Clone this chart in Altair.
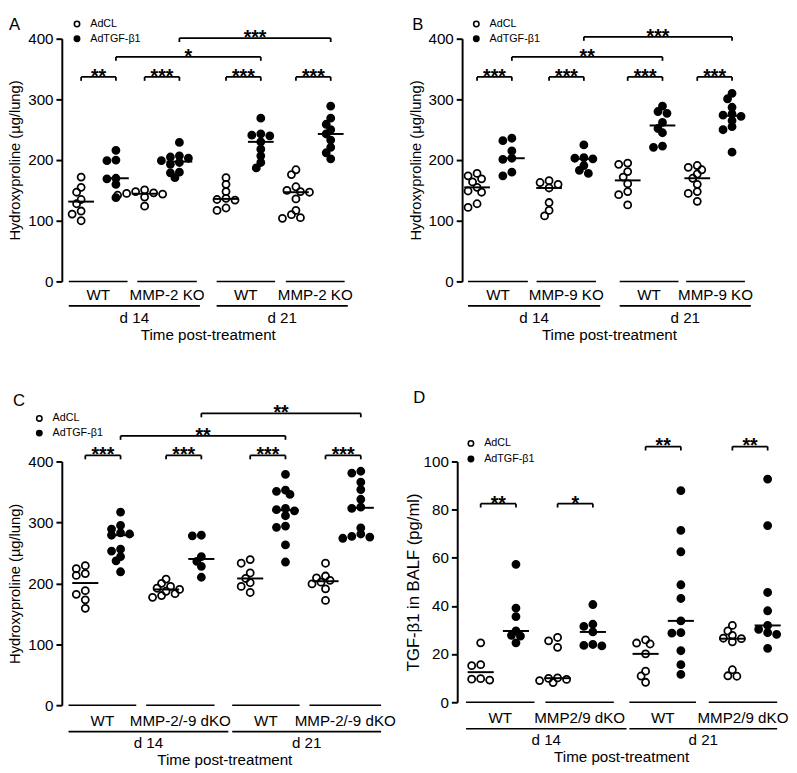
import altair as alt
import pandas as pd

FONT = "Liberation Sans"
SERIES = ["AdCL", "AdTGF-β1"]
DAYS = ["d 14", "d 21"]
X_TITLE = "Time post-treatment"

# ---------------- data (order of groups: WT d14, KO d14, WT d21, KO d21) ----------------
A_ADCL = [
    [172, 155, 147, 135, 128, 116, 111, 100],
    [151, 148, 146, 145, 144, 142, 139, 124],
    [171, 160, 148, 137, 135, 134, 121, 117],
    [184, 176, 156, 150, 148, 147, 136, 117, 110, 105, 104],
]
A_TGF = [
    [216, 200, 199, 170, 169, 160, 138],
    [229, 207, 205, 203, 199, 196, 193, 180, 179, 171],
    [269, 243, 241, 240, 230, 218, 207, 196, 187],
    [289, 269, 259, 250, 243, 233, 221, 212, 202],
]
B_ADCL = [
    [178, 174, 169, 164, 155, 149, 147, 128, 122],
    [166, 163, 160, 154, 130, 117, 108],
    [195, 193, 181, 172, 161, 148, 143, 126],
    [191, 188, 184, 177, 170, 160, 148, 145, 132],
]
B_TGF = [
    [236, 232, 215, 203, 201, 180, 174],
    [225, 204, 203, 202, 191, 183, 178],
    [289, 280, 277, 262, 252, 245, 223, 221],
    [310, 301, 287, 276, 274, 272, 265, 255, 250, 213],
]
C_ADCL = [
    [229, 224, 216, 213, 188, 182, 173, 159],
    [207, 200, 195, 192, 190, 187, 183, 180, 177],
    [239, 233, 217, 208, 201, 195, 185],
    [233, 212, 209, 205, 202, 199, 191, 172],
]
C_TGF = [
    [317, 295, 289, 283, 281, 279, 256, 253, 244, 237, 219],
    [279, 278, 244, 236, 228, 210],
    [379, 353, 351, 346, 323, 321, 319, 311, 294, 292, 263, 235],
    [384, 381, 366, 354, 338, 325, 323, 291, 281, 277, 276, 274],
]
D_ADCL = [
    [24.7, 15.6, 15.2, 9.8, 9.6, 9.2],
    [26.9, 25.5, 22.8, 10.1, 9.9, 9.5, 9.0, 8.2],
    [25.9, 24.6, 24.2, 20.1, 12.9, 10.9, 8.3],
    [31.9, 29.6, 27.8, 26.6, 26.4, 25.1, 13.5, 11.0, 10.8],
]
D_TGF = [
    [57.3, 39.1, 35.6, 29.6, 27.8, 27.5, 24.7],
    [40.6, 32.4, 31.5, 29.2, 24.0, 23.6, 23.4],
    [87.9, 71.4, 62.5, 48.8, 43.1, 33.8, 28.9, 28.7, 21.4, 15.6, 11.6],
    [92.7, 73.4, 45.6, 38.0, 31.9, 30.3, 28.9, 28.2, 22.4],
]

A_GENO = ["WT", "MMP-2 KO", "WT", "MMP-2 KO"]
B_GENO = ["WT", "MMP-9 KO", "WT", "MMP-9 KO"]
C_GENO = ["WT", "MMP-2/-9 dKO", "WT", "MMP-2/-9 dKO"]
D_GENO = ["WT", "MMP2/9 dKO", "WT", "MMP2/9 dKO"]

# significance: pair labels per genotype, pair bracket levels, cross comparisons (label, from, to, level)
A_PAIR = ["**", "***", "***", "***"]
A_PAIR_Y = [337, 337, 337, 337]
A_CROSS = [("*", 0, 2, 370), ("***", 1, 3, 401)]
B_PAIR = ["***", "***", "***", "***"]
B_PAIR_Y = [337, 337, 337, 337]
B_CROSS = [("**", 0, 2, 370), ("***", 1, 3, 403)]
C_PAIR = ["***", "***", "***", "***"]
C_PAIR_Y = [410, 410, 410, 410]
C_CROSS = [("**", 0, 2, 442), ("**", 1, 3, 479)]
D_PAIR = ["**", "*", "**", "**"]
D_PAIR_Y = [82.5, 82.5, 106.2, 106.2]
D_CROSS = []

HYP_TITLE = "Hydroxyproline (µg/lung)"
TGF_TITLE = "TGF-β1 in BALF (pg/ml)"
HYP_TICKS = [0, 100, 200, 300, 400]
TGF_TICKS = [0, 20, 40, 60, 80, 100]

TXT = 15.5


def swarm_offsets(values, ppy, ppx, diam=6.2, step=4.6):
    """Simple deterministic beeswarm layout: returns x offsets (data units)."""
    order = sorted(range(len(values)), key=lambda i: -values[i])
    cands = [0.0]
    for j in range(1, 10):
        cands += [-j * step, j * step]
    placed = []
    out = [0.0] * len(values)
    for i in order:
        y = values[i] * ppy
        chosen = cands[-1]
        for c in cands:
            if all((c - px) ** 2 + (y - py) ** 2 >= diam ** 2 for px, py in placed):
                chosen = c
                break
        placed.append((chosen, y))
        out[i] = chosen / ppx
    return out


def panel(cfg):
    W, H = cfg["width"], cfg["height"]
    xdom, ydom = cfg["xdom"], cfg["ydom"]
    ppx = W / (xdom[1] - xdom[0])
    ppy = H / (ydom[1] - ydom[0])
    xs = alt.Scale(domain=xdom, nice=False, zero=False)
    ys = alt.Scale(domain=ydom, nice=False, zero=False)
    centers = cfg["centers"]

    rows = []
    for g in range(4):
        for s, vals in enumerate([cfg["adcl"][g], cfg["tgf"][g]]):
            xc = centers[g] + (-0.5 if s == 0 else 0.5)
            offs = swarm_offsets(vals, ppy, ppx)
            for v, o in zip(vals, offs):
                rows.append(dict(series=SERIES[s], value=v, xc=xc, x=xc + o))
    pts = pd.DataFrame(rows)

    yaxis = alt.Axis(
        values=cfg["ticks"], title=cfg["ytitle"], format="d", grid=False,
        domainColor="black", domainWidth=2, tickColor="black", tickWidth=2, tickSize=6,
        labelFont=FONT, labelFontSize=TXT, labelColor="black", labelPadding=3,
        titleFont=FONT, titleFontSize=cfg["ytitle_size"], titleFontWeight="normal",
        titleColor="black", titlePadding=cfg["title_pad"],
    )
    lg = cfg["legend"]
    points = alt.Chart(pts).mark_point(
        shape="circle", filled=True, size=52, stroke="black", strokeWidth=1.8, opacity=1
    ).encode(
        x=alt.X("x:Q", scale=xs, axis=None),
        y=alt.Y("value:Q", scale=ys, axis=yaxis),
        fill=alt.Fill(
            "series:N",
            scale=alt.Scale(domain=SERIES, range=["rgba(0,0,0,0)", "black"]),
            legend=alt.Legend(
                orient="none", legendX=lg[0], legendY=lg[1], title=None,
                labelFont=FONT, labelFontSize=11, labelColor="black",
                symbolType="circle", symbolSize=30, symbolStrokeColor="black",
                symbolStrokeWidth=1.6, rowPadding=lg[2], padding=0, labelOffset=8,
            ),
        ),
    )

    medians = alt.Chart(pts).transform_aggregate(
        med="median(value)", groupby=["xc"]
    ).transform_calculate(
        x1="datum.xc - 0.37", x2="datum.xc + 0.37"
    ).mark_rule(color="black", strokeWidth=2).encode(
        x=alt.X("x1:Q", scale=xs, axis=None), x2="x2:Q",
        y=alt.Y("med:Q", scale=ys, axis=yaxis),
    )

    br = []
    for g in range(4):
        br.append(dict(x1=centers[g] - 0.5, x2=centers[g] + 0.5, y=cfg["pair_y"][g], label=cfg["pair"][g]))
    for lab, a, b, lev in cfg["cross"]:
        br.append(dict(x1=centers[a] + 0.5, x2=centers[b] + 0.5, y=lev, label=lab))
    brd = pd.DataFrame(br)
    brd["xm"] = (brd["x1"] + brd["x2"]) / 2

    hline = alt.Chart(brd).mark_rule(color="black", strokeWidth=1.8).encode(
        x=alt.X("x1:Q", scale=xs, axis=None), x2="x2:Q",
        y=alt.Y("y:Q", scale=ys, axis=yaxis),
    )
    leg1 = alt.Chart(brd).mark_rule(color="black", strokeWidth=1.8, y2Offset=4).encode(
        x=alt.X("x1:Q", scale=xs, axis=None),
        y=alt.Y("y:Q", scale=ys, axis=yaxis), y2="y:Q",
    )
    leg2 = alt.Chart(brd).mark_rule(color="black", strokeWidth=1.8, y2Offset=4).encode(
        x=alt.X("x2:Q", scale=xs, axis=None),
        y=alt.Y("y:Q", scale=ys, axis=yaxis), y2="y:Q",
    )
    stars = alt.Chart(brd).mark_text(
        font=FONT, fontSize=20, fontWeight="bold", baseline="alphabetic", dy=6, color="black"
    ).encode(
        x=alt.X("xm:Q", scale=xs, axis=None),
        y=alt.Y("y:Q", scale=ys, axis=yaxis), text="label:N",
    )

    off = cfg["below"]
    gdf = pd.DataFrame(dict(
        x1=[s[0] for s in cfg["geno_spans"]], x2=[s[1] for s in cfg["geno_spans"]],
        label=cfg["geno"],
    ))
    gdf["xm"] = (gdf["x1"] + gdf["x2"]) / 2
    ddf = pd.DataFrame(dict(
        x1=[s[0] for s in cfg["day_spans"]], x2=[s[1] for s in cfg["day_spans"]],
        label=DAYS,
    ))
    ddf["xm"] = (ddf["x1"] + ddf["x2"]) / 2
    tdf = pd.DataFrame(dict(xm=[(cfg["day_spans"][0][0] + cfg["day_spans"][1][1]) / 2], label=[X_TITLE]))

    glines = alt.Chart(gdf).mark_rule(color="black", strokeWidth=1.6).encode(
        x=alt.X("x1:Q", scale=xs, axis=None), x2="x2:Q", y=alt.value(H),
    )
    glabels = alt.Chart(gdf).mark_text(font=FONT, fontSize=TXT, baseline="middle", color="black").encode(
        x=alt.X("xm:Q", scale=xs, axis=None), y=alt.value(H + off[0]), text="label:N",
    )
    dlines = alt.Chart(ddf).mark_rule(color="black", strokeWidth=1.6).encode(
        x=alt.X("x1:Q", scale=xs, axis=None), x2="x2:Q", y=alt.value(H + off[1]),
    )
    dlabels = alt.Chart(ddf).mark_text(font=FONT, fontSize=TXT, baseline="middle", color="black").encode(
        x=alt.X("xm:Q", scale=xs, axis=None), y=alt.value(H + off[2]), text="label:N",
    )
    xtitle = alt.Chart(tdf).mark_text(font=FONT, fontSize=TXT, baseline="middle", color="black").encode(
        x=alt.X("xm:Q", scale=xs, axis=None), y=alt.value(H + off[3]), text="label:N",
    )
    plabel = alt.Chart(pd.DataFrame(dict(t=[cfg["label"]]))).mark_text(
        font=FONT, fontSize=17, align="left", baseline="top", color="black"
    ).encode(x=alt.value(cfg["label_xy"][0]), y=alt.value(cfg["label_xy"][1]), text="t:N")

    return alt.layer(
        points, glines, glabels, dlines, dlabels, xtitle, hline, leg1, leg2, stars,
        medians, plabel,
    ).properties(width=W, height=H)


TOP_BELOW = [14, 25, 37, 55]
BOT_BELOW = [16, 27, 39, 56]

cfgA = dict(
    label="A", label_xy=(-54, -22), width=295, height=248, xdom=[0, 8.3], ydom=[0, 400],
    ticks=HYP_TICKS, ytitle=HYP_TITLE, ytitle_size=15, title_pad=5,
    adcl=A_ADCL, tgf=A_TGF, geno=A_GENO, pair=A_PAIR, pair_y=A_PAIR_Y, cross=A_CROSS,
    centers=[1.055, 2.88, 5.22, 7.23],
    geno_spans=[(0.2, 1.89), (2.17, 3.88), (4.45, 6.13), (6.44, 8.13)],
    day_spans=[(0.2, 3.97), (4.45, 8.22)],
    legend=(10, -20.5, 2), below=TOP_BELOW,
)
cfgB = dict(
    label="B", label_xy=(-51, -22), width=295, height=248, xdom=[0, 8.3], ydom=[0, 400],
    ticks=HYP_TICKS, ytitle=HYP_TITLE, ytitle_size=15, title_pad=5,
    adcl=B_ADCL, tgf=B_TGF, geno=B_GENO, pair=B_PAIR, pair_y=B_PAIR_Y, cross=B_CROSS,
    centers=[0.93, 3.0, 5.26, 7.26],
    geno_spans=[(0.17, 1.89), (2.14, 3.85), (4.53, 6.22), (6.44, 8.13)],
    day_spans=[(0.17, 3.97), (4.53, 8.3)],
    legend=(9, -20.5, 2), below=TOP_BELOW,
)
cfgC = dict(
    label="C", label_xy=(-50, -70), width=328, height=249, xdom=[0, 9.1], ydom=[0, 400],
    ticks=HYP_TICKS, ytitle=HYP_TITLE, ytitle_size=15, title_pad=5,
    adcl=C_ADCL, tgf=C_TGF, geno=C_GENO, pair=C_PAIR, pair_y=C_PAIR_Y, cross=C_CROSS,
    centers=[1.165, 3.455, 5.84, 7.975],
    geno_spans=[(0.19, 2.11), (2.39, 4.33), (4.83, 6.74), (7.02, 9.05)],
    day_spans=[(0.19, 4.72), (4.83, 9.05)],
    legend=(-28.5, -49.5, 2), below=BOT_BELOW,
)
cfgD = dict(
    label="D", label_xy=(-45, -73), width=328, height=246, xdom=[0, 9.1], ydom=[0, 100],
    ticks=TGF_TICKS, ytitle=TGF_TITLE, ytitle_size=17, title_pad=1,
    adcl=D_ADCL, tgf=D_TGF, geno=D_GENO, pair=D_PAIR, pair_y=D_PAIR_Y, cross=D_CROSS,
    centers=[1.165, 3.345, 5.84, 8.3],
    geno_spans=[(0.25, 2.19), (2.5, 4.44), (4.88, 6.77), (7.13, 9.07)],
    day_spans=[(0.25, 4.8), (4.88, 9.07)],
    legend=(8.5, -24, 3), below=BOT_BELOW,
)

row1 = alt.hconcat(panel(cfgA), panel(cfgB), spacing=56).resolve_scale(
    x="independent", y="independent", fill="independent")
row2 = alt.hconcat(panel(cfgC), panel(cfgD), spacing=8).resolve_scale(
    x="independent", y="independent", fill="independent")

chart = alt.vconcat(row1, row2, spacing=46).resolve_scale(
    x="independent", y="independent", fill="independent"
).properties(padding=0).configure(font=FONT).configure_view(stroke=None)

chart.save("out.html", embed_options={"renderer": "svg", "actions": False})
